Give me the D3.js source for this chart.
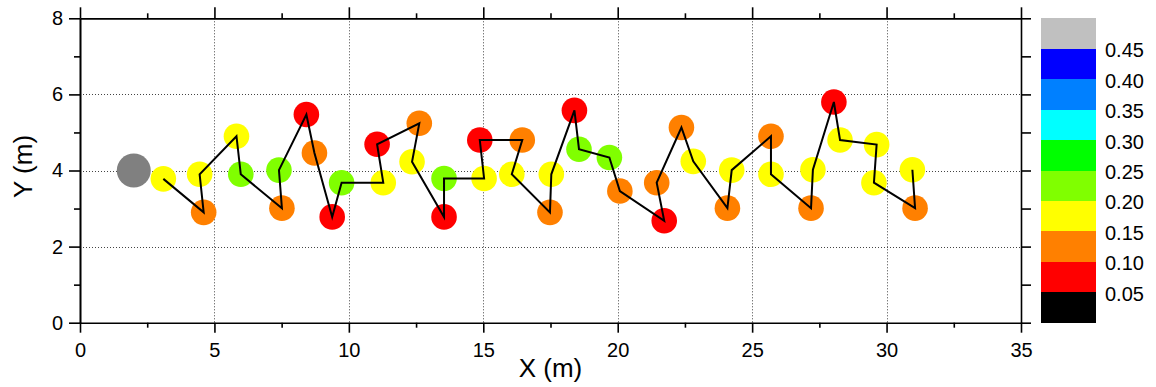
<!DOCTYPE html>
<html>
<head>
<meta charset="utf-8">
<script src="https://cdn.jsdelivr.net/npm/d3@7"></script>
<style>
  html, body { margin: 0; padding: 0; background: #ffffff; }
  svg { display: block; }
  text { font-family: "Liberation Sans", Arial, Helvetica, sans-serif; fill: #000; }
</style>
</head>
<body>
<svg id="chart" width="1156" height="387"></svg>
<script>
// Trajectory of measurement positions, in walking order
const pathX = [3.10, 4.60, 4.45, 5.82, 5.98, 7.51, 7.40, 8.42, 8.72, 9.38,
               9.73, 11.28, 11.05, 12.62, 12.35, 13.54, 13.54, 15.03, 14.87, 16.45,
               16.06, 17.48, 17.53, 18.39, 18.56, 19.69, 20.08, 21.73, 21.45, 22.37,
               22.81, 24.08, 24.24, 25.70, 25.70, 27.19, 27.26, 28.04, 28.27, 29.63,
               29.53, 31.06, 30.96];
const pathY = [3.78, 2.90, 3.90, 4.90, 3.90, 3.01, 4.01, 5.47, 4.46, 2.78,
               3.68, 3.68, 4.69, 5.24, 4.23, 2.78, 3.79, 3.79, 4.80, 4.80,
               3.90, 2.90, 3.90, 5.58, 4.56, 4.34, 3.46, 2.68, 3.68, 5.13,
               4.24, 3.01, 4.01, 4.90, 3.90, 3.01, 4.02, 5.80, 4.80, 4.68,
               3.68, 3.01, 4.02];
// Measured value at each position
const pathValue = [0.175, 0.125, 0.175, 0.175, 0.225, 0.125, 0.225, 0.075, 0.125, 0.075,
                   0.225, 0.175, 0.075, 0.125, 0.175, 0.075, 0.225, 0.175, 0.075, 0.125,
                   0.175, 0.125, 0.175, 0.075, 0.225, 0.225, 0.125, 0.075, 0.125, 0.125,
                   0.175, 0.125, 0.175, 0.125, 0.175, 0.125, 0.175, 0.075, 0.175, 0.175,
                   0.175, 0.125, 0.175];

// Source location
const sourceX = [2.0];
const sourceY = [4.0];

// Colour scale bins
const binEdges = [0.05, 0.10, 0.15, 0.20, 0.25, 0.30, 0.35, 0.40, 0.45];
const binColors = ["#000000", "#ff0000", "#ff8000", "#ffff00", "#80ff00",
                   "#00ff00", "#00ffff", "#0080ff", "#0000ff", "#c0c0c0"];
const binLabels = ["0.05", "0.10", "0.15", "0.20", "0.25", "0.30", "0.35", "0.40", "0.45"];

// Axis ticks
const xMajor = [0, 5, 10, 15, 20, 25, 30, 35];
const xMinor = [2.5, 7.5, 12.5, 17.5, 22.5, 27.5, 32.5];
const yMajor = [0, 2, 4, 6, 8];
const yMinor = [1, 3, 5, 7];
const yRight = [0, 1, 2, 3, 4, 5, 6, 7, 8];
const xGrid = [5, 10, 15, 20, 25, 30];
const yGrid = [2, 4, 6];

const svg = d3.select("#chart");
const plot = { left: 80, right: 1021, top: 18.3, bottom: 322.7 };

const x = d3.scaleLinear().domain([0, 35]).range([plot.left, plot.right]);
const y = d3.scaleLinear().domain([0, 8]).range([plot.bottom, plot.top]);
const color = d3.scaleThreshold().domain(binEdges).range(binColors);

// Grid
const grid = svg.append("g").attr("stroke", "#444").attr("stroke-width", 1)
  .attr("stroke-dasharray", "1,2");
grid.selectAll("line.gx").data(xGrid).join("line")
  .attr("x1", d => Math.round(x(d)) + 0.5).attr("x2", d => Math.round(x(d)) + 0.5)
  .attr("y1", plot.top).attr("y2", plot.bottom);
grid.selectAll("line.gy").data(yGrid).join("line")
  .attr("y1", d => Math.round(y(d)) + 0.5).attr("y2", d => Math.round(y(d)) + 0.5)
  .attr("x1", plot.left).attr("x2", plot.right);

// Points
const pts = pathX.map((d, i) => ({ x: d, y: pathY[i], v: pathValue[i] }));

svg.append("g").selectAll("circle").data(sourceX).join("circle")
  .attr("cx", d => x(d)).attr("cy", (d, i) => y(sourceY[i]))
  .attr("r", 17).attr("fill", "#808080");

svg.append("g").selectAll("circle").data(pts).join("circle")
  .attr("cx", d => x(d.x)).attr("cy", d => y(d.y))
  .attr("r", 12.8).attr("fill", d => color(d.v));

// Trajectory line
svg.append("path").datum(pts)
  .attr("fill", "none").attr("stroke", "#000").attr("stroke-width", 2)
  .attr("stroke-linejoin", "miter")
  .attr("d", d3.line().x(d => x(d.x)).y(d => y(d.y)));

// Axes
function styleAxis(g) {
  g.selectAll(".domain").attr("stroke", "#000").attr("stroke-width", 1.6);
  g.selectAll(".tick line").attr("stroke", "#000").attr("stroke-width", 1.6);
  g.selectAll("text").attr("font-size", 20).attr("fill", "#000")
    .attr("font-family", '"Liberation Sans", Arial, sans-serif');
}

svg.append("g").attr("transform", `translate(0,${plot.bottom})`)
  .call(d3.axisBottom(x).tickValues(xMajor).tickSize(10).tickSizeOuter(0).tickPadding(10)
    .tickFormat(d3.format("d")))
  .call(styleAxis)
  .call(g => g.select(".domain").remove());
svg.append("g").attr("transform", `translate(0,${plot.bottom})`)
  .call(d3.axisBottom(x).tickValues(xMinor).tickSize(5).tickSizeOuter(0).tickFormat(""))
  .call(styleAxis);

svg.append("g").attr("transform", `translate(0,${plot.top})`)
  .call(d3.axisTop(x).tickValues(xMajor).tickSize(11).tickSizeOuter(0).tickFormat(""))
  .call(styleAxis);
svg.append("g").attr("transform", `translate(0,${plot.top})`)
  .call(d3.axisTop(x).tickValues(xMinor).tickSize(5).tickSizeOuter(0).tickFormat(""))
  .call(styleAxis);

svg.append("g").attr("transform", `translate(${plot.left},0)`)
  .call(d3.axisLeft(y).tickValues(yMajor).tickSize(11).tickSizeOuter(0).tickPadding(6)
    .tickFormat(d3.format("d")))
  .call(styleAxis);
svg.append("g").attr("transform", `translate(${plot.left},0)`)
  .call(d3.axisLeft(y).tickValues(yMinor).tickSize(6).tickSizeOuter(0).tickFormat(""))
  .call(styleAxis);

svg.append("g").attr("transform", `translate(${plot.right},0)`)
  .call(d3.axisRight(y).tickValues(yRight).tickSize(10).tickSizeOuter(0).tickFormat(""))
  .call(styleAxis);

// Axis titles
svg.append("text").attr("x", (plot.left + plot.right) / 2).attr("y", 377)
  .attr("text-anchor", "middle").attr("font-size", 26).text("X (m)");
svg.append("text").attr("transform", `translate(32,${(plot.top + plot.bottom) / 2 - 4}) rotate(-90)`)
  .attr("text-anchor", "middle").attr("font-size", 26).text("Y (m)");

// Colour bar
const cb = { left: 1040.7, right: 1096 };
const cbScale = d3.scaleLinear().domain([0, 0.5]).range([plot.bottom, plot.top]);
const bandLo = [0].concat(binEdges);
const bandHi = binEdges.concat([0.5]);
svg.append("g").selectAll("rect").data(binColors).join("rect")
  .attr("x", cb.left).attr("width", cb.right - cb.left)
  .attr("y", (d, i) => cbScale(bandHi[i]))
  .attr("height", (d, i) => cbScale(bandLo[i]) - cbScale(bandHi[i]))
  .attr("fill", d => d).attr("shape-rendering", "crispEdges");
svg.append("g").selectAll("text").data(binLabels).join("text")
  .attr("x", 1105).attr("y", (d, i) => cbScale(binEdges[i]) + 8.5)
  .attr("font-size", 20).text(d => d);
</script>
</body>
</html>
